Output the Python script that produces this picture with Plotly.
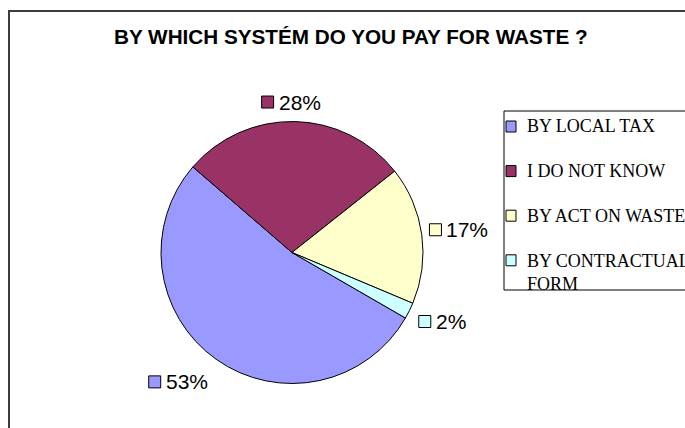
import math
import textwrap
import plotly.graph_objects as go

# ---- data -------------------------------------------------------------
categories = ["BY LOCAL TAX", "I DO NOT KNOW", "BY ACT ON WASTE", "BY CONTRACTUAL FORM"]
shares = [53, 28, 17, 2]
slice_colors = ["#9999FF", "#993366", "#FFFFCC", "#CCFFFF"]
title_text = "BY WHICH SYSTÉM DO YOU PAY FOR WASTE ?"

# ---- layout constants (pixels) ---------------------------------------
W, H = 685, 428
CX, CY, R = 292, 252.5, 131          # pie centre and radius
ROTATION = 120                       # start angle of first slice, clockwise from 12 o'clock
LABEL_GAP = [20, 13, 8, 11]          # distance of each value label from the rim
LABEL_NUDGE = [(-10, 1), (-5, 0), (0, -3), (2, 3)]  # fine placement of value labels
LABEL_FS = 21
TITLE_FS = 20.7
LEGEND_FS = 18
SQ = 12                              # marker square size

SANS = "Arial, Liberation Sans, sans-serif"
SERIF = "Times New Roman, Liberation Serif, serif"


def px(x):
    return x / W


def py(y):
    return 1 - y / H


ARIAL_W = {"%": 0.889, " ": 0.278}


def text_width(s, fs):
    return sum(ARIAL_W.get(ch, 0.556) for ch in s) * fs


fig = go.Figure()

fig.add_trace(go.Pie(
    labels=categories,
    values=shares,
    sort=False,
    direction="clockwise",
    rotation=ROTATION,
    textinfo="none",
    hoverinfo="label+percent",
    marker=dict(colors=slice_colors, line=dict(color="#000000", width=1)),
    domain=dict(x=[px(CX - R), px(CX + R)], y=[py(CY + R), py(CY - R)]),
    showlegend=False,
))

shapes = []
annotations = []

# outer chart frame
shapes.append(dict(type="rect", xref="paper", yref="paper",
                   x0=px(9), x1=px(W + 20), y0=py(H + 20), y1=py(11),
                   line=dict(color="#3c3c3c", width=2), fillcolor="rgba(0,0,0,0)"))

# title
annotations.append(dict(text=f"<b>{title_text}</b>", xref="paper", yref="paper",
                        x=px(350.5), y=py(36.5), xanchor="center", yanchor="middle",
                        showarrow=False, font=dict(family=SANS, size=TITLE_FS, color="#000")))

# value labels outside each slice, with a colour key square
total = sum(shares)
start = ROTATION
for val, col, gap, (ndx, ndy) in zip(shares, slice_colors, LABEL_GAP, LABEL_NUDGE):
    sweep = 360 * val / total
    mid = math.radians(start + sweep / 2)
    start += sweep
    s, c = math.sin(mid), math.cos(mid)
    txt = f"{round(100 * val / total)}%"
    tw = text_width(txt, LABEL_FS)
    w = SQ + 4 + tw
    h = 13
    lx = CX + (R + gap) * s + w / 2 * s + ndx
    ly = CY - (R + gap) * c - h / 2 * c + ndy
    left = lx - w / 2
    shapes.append(dict(type="rect", xref="paper", yref="paper",
                       x0=px(left), x1=px(left + SQ), y0=py(ly + SQ / 2), y1=py(ly - SQ / 2),
                       line=dict(color="#000", width=1), fillcolor=col))
    annotations.append(dict(text=txt, xref="paper", yref="paper",
                            x=px(left + SQ + 3), y=py(ly), xanchor="left", yanchor="middle",
                            showarrow=False, font=dict(family=SANS, size=LABEL_FS, color="#000")))

# legend box
LEG_L, LEG_T, LEG_B = 504, 111, 290
shapes.append(dict(type="rect", xref="paper", yref="paper",
                   x0=px(LEG_L), x1=px(W + 30), y0=py(LEG_B), y1=py(LEG_T),
                   line=dict(color="#000", width=1), fillcolor="rgba(0,0,0,0)"))

ROW0, ROW_STEP = 126.5, 44.6
line_h = LEGEND_FS * 1.3
for i, (name, col) in enumerate(zip(categories, slice_colors)):
    yc = ROW0 + i * ROW_STEP
    shapes.append(dict(type="rect", xref="paper", yref="paper",
                       x0=px(506), x1=px(516), y0=py(yc + 5.5), y1=py(yc - 5.5),
                       line=dict(color="#000", width=1), fillcolor=col))
    lines = textwrap.wrap(name, 15)
    ymid = yc + (len(lines) - 1) * line_h / 2
    annotations.append(dict(text="<br>".join(lines), xref="paper", yref="paper",
                            x=px(525), y=py(ymid), xanchor="left", yanchor="middle",
                            align="left", showarrow=False,
                            font=dict(family=SERIF, size=LEGEND_FS, color="#000")))

fig.update_layout(
    width=W, height=H,
    margin=dict(l=0, r=0, t=0, b=0),
    paper_bgcolor="#ffffff",
    plot_bgcolor="#ffffff",
    shapes=shapes,
    annotations=annotations,
    showlegend=False,
)

fig.write_html("out.html")
